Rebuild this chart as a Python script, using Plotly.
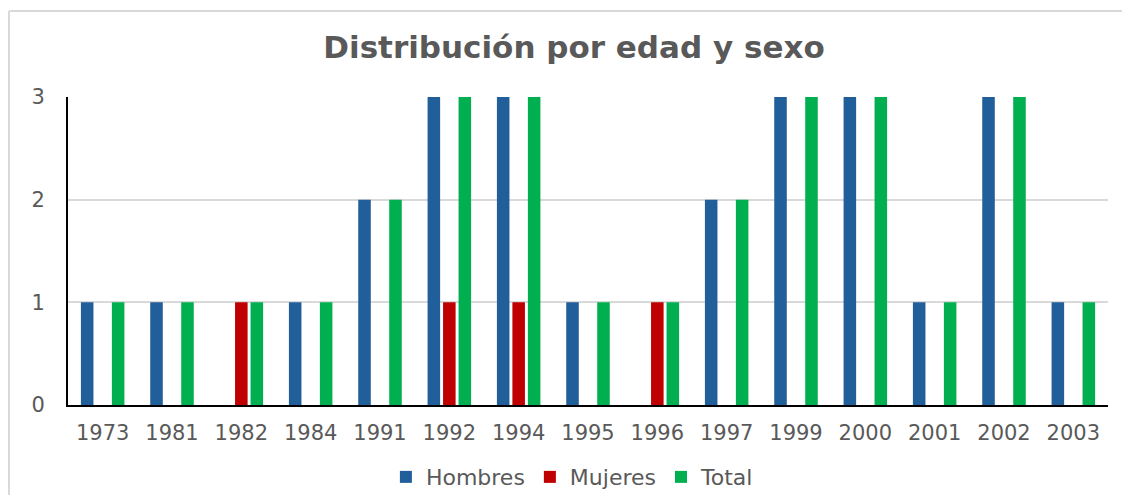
import plotly.graph_objects as go

years = ["1973", "1981", "1982", "1984", "1991", "1992", "1994", "1995",
         "1996", "1997", "1999", "2000", "2001", "2002", "2003"]
hombres = [1, 1, 0, 1, 2, 3, 3, 1, 0, 2, 3, 3, 1, 3, 1]
mujeres = [0, 0, 1, 0, 0, 1, 1, 0, 1, 0, 0, 0, 0, 0, 0]
total = [1, 1, 1, 1, 2, 3, 3, 1, 1, 2, 3, 3, 1, 3, 1]

series = [("Hombres", hombres, "#215F9A"),
          ("Mujeres", mujeres, "#C00000"),
          ("Total", total, "#00B050")]

fig = go.Figure()
for name, vals, color in series:
    fig.add_trace(go.Bar(
        x=years, y=vals, name=name,
        marker=dict(color=color, line=dict(width=0)),
    ))

font_family = "DejaVu Sans, Liberation Sans, Arial, sans-serif"

W, H = 1114, 487
L, R, T, B = 60, 14, 89, 90
PW, PH = W - L - R, H - T - B

bx0 = (1 - L) / PW
by1 = (H - B - 3) / PH
border = dict(color="#D9D9D9", width=2)

fig.update_layout(
    width=W, height=H,
    margin=dict(l=L, r=R, t=T, b=B, autoexpand=False),
    paper_bgcolor="white", plot_bgcolor="white",
    barmode="group", bargap=0.33, bargroupgap=0.19,
    title=dict(text="<b>Distribución por edad y sexo</b>",
               x=566 / W, xanchor="center", y=1 - 39 / H, yanchor="middle",
               font=dict(family=font_family, size=31, color="#595959")),
    legend=dict(orientation="h", x=0.485, xanchor="center",
                y=-0.234, yanchor="middle",
                font=dict(family=font_family, size=22, color="#595959"),
                traceorder="normal"),
    font=dict(family=font_family, color="#595959"),
    xaxis=dict(type="category", showline=True, linecolor="black", linewidth=2,
               ticks="", tickfont=dict(size=21, color="#595959"),
               ticklabelstandoff=8, showgrid=False),
    yaxis=dict(range=[0, 3], tickvals=[0, 1, 2, 3], showline=True,
               linecolor="black", linewidth=2, showgrid=True,
               gridcolor="#D9D9D9", gridwidth=1.5, zeroline=False,
               ticks="", tickfont=dict(size=21, color="#595959"),
               ticklabelstandoff=17),
    shapes=[
        dict(type="line", xref="paper", yref="paper",
             x0=bx0, x1=1.2, y0=by1, y1=by1, line=border, layer="below"),
        dict(type="line", xref="paper", yref="paper",
             x0=bx0, x1=bx0, y0=-0.6, y1=by1, line=border, layer="below"),
    ],
)

fig.write_html("out.html")
